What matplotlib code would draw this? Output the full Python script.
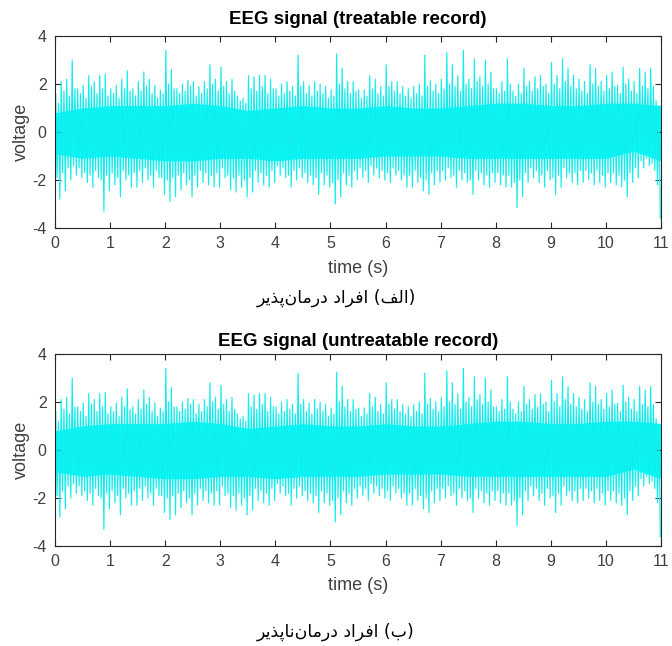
import matplotlib
matplotlib.use('Agg')
import matplotlib.pyplot as plt
import numpy as np

# picos superiores e inferiores leídos cada 0.1 s (el mismo registro en ambas gráficas)
upper = [1.6, 2.1, 2.2, 3.0, 1.8, 1.95, 2.35, 2.1, 2.35, 2.4,
         1.8, 1.95, 2.2, 2.55, 1.8, 2.1, 2.5, 2.2, 1.95, 1.75,
         3.4, 2.6, 1.8, 2.0, 2.15, 2.1, 1.9, 2.1, 2.8, 2.2,
         2.7, 2.1, 2.2, 1.5, 1.4, 2.35, 2.3, 2.35, 2.35, 2.2,
         1.8, 2.0, 2.1, 1.9, 3.2, 2.1, 1.95, 2.1, 2.0, 1.9,
         1.75, 3.25, 2.65, 2.1, 2.1, 1.75, 1.75, 2.35, 2.2, 1.9,
         2.8, 2.1, 2.1, 1.9, 1.8, 1.9, 2.0, 3.2, 2.15, 2.0,
         2.2, 3.3, 2.8, 2.35, 3.4, 2.2, 3.05, 2.3, 3.0, 2.5,
         1.8, 2.1, 3.05, 1.7, 2.0, 2.65, 2.1, 2.3, 2.35, 2.0,
         2.9, 2.35, 3.05, 2.65, 2.35, 2.2, 2.1, 2.8, 2.65, 2.1,
         2.35, 2.5, 1.95, 2.7, 2.2, 2.1, 2.65, 2.5, 2.65, 1.3]
lower = [-2.8, -2.45, -2.0, -1.8, -1.9, -2.1, -2.3, -1.9, -3.3, -2.45,
         -2.2, -2.7, -2.0, -2.3, -2.3, -2.1, -2.0, -2.3, -1.9, -2.6,
         -2.9, -2.7, -2.4, -2.2, -2.7, -2.3, -2.1, -2.2, -2.3, -2.3,
         -1.9, -2.4, -2.5, -2.3, -2.7, -2.5, -2.1, -2.2, -2.3, -2.1,
         -1.8, -1.9, -2.3, -2.0, -1.9, -2.1, -2.2, -2.6, -2.2, -2.3,
         -3.0, -2.7, -2.2, -2.3, -2.0, -1.9, -2.1, -1.8, -1.9, -2.0,
         -2.1, -1.8, -2.0, -2.3, -2.3, -2.1, -2.45, -2.6, -2.2, -2.1,
         -2.0, -1.9, -2.3, -2.0, -2.1, -2.6, -2.0, -2.2, -2.3, -2.1,
         -2.2, -2.3, -2.3, -3.15, -2.7, -2.1, -1.9, -2.1, -2.3, -2.0,
         -2.6, -2.3, -1.9, -2.1, -2.2, -2.1, -2.0, -2.2, -2.1, -2.3,
         -2.1, -2.2, -2.3, -2.7, -2.1, -1.9, -1.5, -1.4, -1.6, -3.6]

# picos secundarios (más pequeños) en cada intervalo de 0.1 s
upper2 = [1.2, 1.7, 1.5, 1.8, 1.6, 1.4, 1.9, 1.6, 1.8, 1.5,
          1.6, 1.4, 1.8, 1.7, 1.5, 1.7, 1.9, 1.6, 1.4, 1.6,
          2.0, 1.8, 1.6, 1.7, 1.9, 1.5, 1.6, 1.8, 2.0, 1.7,
          1.9, 1.6, 1.7, 1.3, 1.2, 1.8, 1.7, 1.9, 1.6, 1.8,
          1.5, 1.6, 1.7, 1.5, 1.9, 1.6, 1.5, 1.7, 1.6, 1.4,
          1.5, 2.0, 1.8, 1.6, 1.7, 1.4, 1.5, 1.8, 1.6, 1.5,
          1.9, 1.7, 1.6, 1.5, 1.4, 1.6, 1.5, 1.9, 1.7, 1.6,
          1.8, 2.0, 1.9, 1.7, 2.0, 1.8, 2.1, 1.9, 2.0, 1.8,
          1.6, 1.7, 2.0, 1.5, 1.6, 1.9, 1.7, 1.8, 1.9, 1.6,
          2.0, 1.8, 2.1, 1.9, 1.8, 1.7, 1.6, 2.0, 1.9, 1.7,
          1.8, 1.9, 1.6, 2.0, 1.7, 1.6, 1.9, 1.8, 1.9, 1.1]
lower2 = [-1.9, -1.7, -1.5, -1.4, -1.5, -1.7, -1.8, -1.6, -2.0, -1.8,
          -1.7, -1.9, -1.6, -1.8, -1.7, -1.6, -1.5, -1.8, -1.6, -1.9,
          -2.0, -1.9, -1.8, -1.7, -2.0, -1.8, -1.6, -1.7, -1.8, -1.7,
          -1.5, -1.8, -1.9, -1.8, -2.0, -1.9, -1.6, -1.7, -1.8, -1.6,
          -1.4, -1.5, -1.8, -1.6, -1.5, -1.7, -1.8, -1.9, -1.7, -1.8,
          -2.1, -2.0, -1.7, -1.8, -1.6, -1.5, -1.6, -1.4, -1.5, -1.6,
          -1.7, -1.5, -1.6, -1.8, -1.8, -1.6, -1.9, -2.0, -1.7, -1.6,
          -1.6, -1.5, -1.8, -1.6, -1.7, -2.0, -1.6, -1.7, -1.8, -1.7,
          -1.7, -1.8, -1.8, -2.1, -2.0, -1.7, -1.5, -1.6, -1.8, -1.6,
          -1.9, -1.8, -1.5, -1.7, -1.7, -1.6, -1.6, -1.7, -1.6, -1.8,
          -1.7, -1.7, -1.8, -2.0, -1.7, -1.5, -1.2, -1.1, -1.3, -2.2]

# núcleo denso de la señal, leído cada 0.5 s
core_t = [0.0, 0.5, 1.0, 1.5, 2.0, 2.5, 3.0, 3.5, 4.0, 4.5, 5.0, 5.5,
          6.0, 6.5, 7.0, 7.5, 8.0, 8.5, 9.0, 9.5, 10.0, 10.5, 11.0]
core_up = [0.8, 1.0, 1.1, 1.1, 1.1, 1.2, 1.1, 0.9, 1.0, 1.1, 1.0, 1.0,
           1.1, 1.0, 1.0, 1.1, 1.2, 1.2, 1.1, 1.1, 1.2, 1.2, 1.1]
core_lo = [-0.9, -1.1, -1.0, -1.1, -1.2, -1.2, -1.1, -1.1, -1.2, -1.1, -1.1, -1.1,
           -1.0, -1.0, -1.0, -1.1, -1.1, -1.1, -1.1, -1.1, -1.1, -0.8, -1.2]

titles = ['EEG signal (treatable record)', 'EEG signal (untreatable record)']
# texto persa en formas de presentación, en orden visual
captions = ['\uFEAE\uFBFE\uFEAC\uFB58\uFEE5\uFE8E\uFEE3\uFEAD\uFEA9 '
            '\uFEA9\uFE8D\uFEAE\uFED3\uFE8D (\uFED2\uFEDF\uFE8D)',
            '\uFEAE\uFBFE\uFEAC\uFB58\uFE8E\uFEE7\uFEE5\uFE8E\uFEE3\uFEAD\uFEA9 '
            '\uFEA9\uFE8D\uFEAE\uFED3\uFE8D (\uFE8F)']

# señal en zigzag: pico alto, secundario bajo, secundario alto, pico bajo
n = len(upper)
base = np.arange(n) * 0.1
t = np.empty(4 * n)
y = np.empty(4 * n)
for j, (off, vals) in enumerate([(0.0125, upper), (0.0375, lower2),
                                 (0.0625, upper2), (0.0875, lower)]):
    t[j::4] = base + off
    y[j::4] = vals

plt.rcParams['font.family'] = ['Liberation Sans', 'DejaVu Sans']
plt.rcParams['axes.unicode_minus'] = False
W, H = 672, 646
fig = plt.figure(figsize=(W / 100, H / 100), dpi=100)

cyan = '#00ffff'
line_cyan = '#12ecec'
gray = '#404040'
boxes = [(36, 228), (354, 546)]
title_y = [19, 341]
label_y = [269, 586]
caption_y = [298, 632]

for k in range(2):
    top, bot = boxes[k]
    ax = fig.add_axes([55 / W, 1 - bot / H, 606 / W, (bot - top) / H])
    ax.fill_between(core_t, core_lo, core_up, color=cyan, lw=0)
    ax.plot(t, y, color=line_cyan, lw=0.85)
    ax.set_xlim(0, 11)
    ax.set_ylim(-4, 4)
    ax.set_xticks(range(12))
    ax.set_yticks([-4, -2, 0, 2, 4])
    ax.tick_params(direction='in', top=True, right=True, length=4,
                   labelsize=11.5, labelcolor=gray, color='#262626', pad=6)
    for s in ax.spines.values():
        s.set_color('#262626')
        s.set_linewidth(0.8)
    ax.set_ylabel('voltage', fontsize=13, color=gray, labelpad=2)
    fig.text(358 / W, 1 - title_y[k] / H, titles[k], ha='center', va='center',
             fontsize=13.5, fontweight='bold', color='black')
    fig.text(358 / W, 1 - label_y[k] / H, 'time (s)', ha='center', va='center',
             fontsize=13, color=gray)
    fig.text(336 / W, 1 - caption_y[k] / H, captions[k], ha='center', va='center',
             fontsize=12.5, color='black', family='DejaVu Sans')

fig.savefig('out.png', dpi=100)
